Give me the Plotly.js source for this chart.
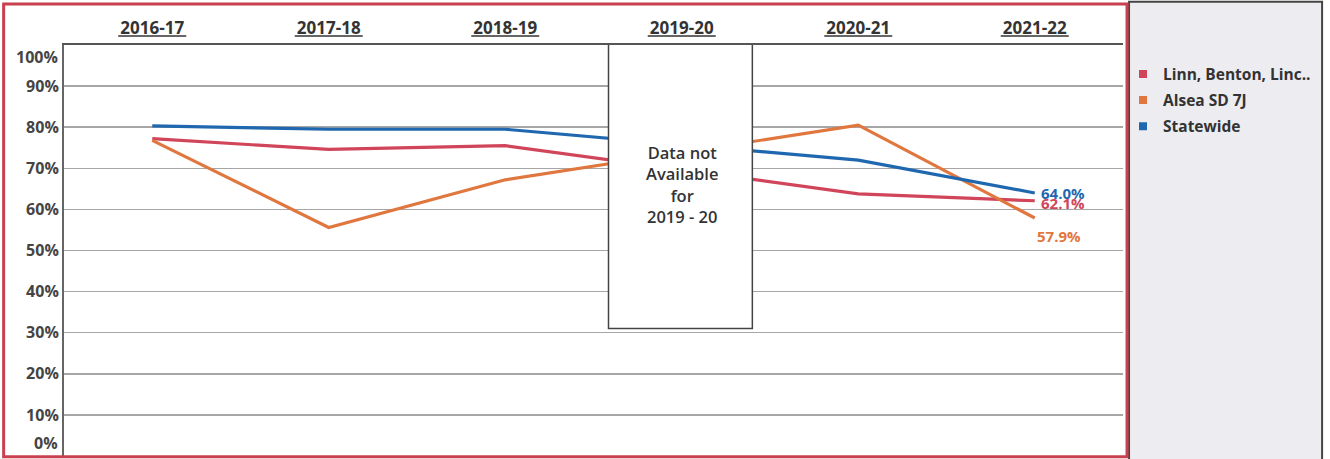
<!DOCTYPE html>
<html>
<head>
<meta charset="utf-8">
<script src="https://cdn.plot.ly/plotly-3.0.1.min.js"></script>
<style>html,body{margin:0;padding:0;background:#fff;}#chart{width:1330px;height:459px;}</style>
</head>
<body>
<div id="chart"></div>
<script>
var years = ["2016-17", "2017-18", "2018-19", "2019-20", "2020-21", "2021-22"];
var linnBenton = [77.2, 74.6, 75.5, null, 63.8, 62.1];
var alsea = [76.8, 55.6, 67.2, null, 80.5, 57.9];
var statewide = [80.3, 79.5, 79.5, null, 72.0, 64.0];
var seriesNames = ["Linn, Benton, Linc..", "Alsea SD 7J", "Statewide"];
var seriesColors = ["#d0455a", "#e0773e", "#1f68b0"];
var yTicks = [0, 10, 20, 30, 40, 50, 60, 70, 80, 90, 100];
var noDataText = "Data not<br>Available<br>for<br>2019 - 20";

var FONT = "'Open Sans', 'Noto Sans', sans-serif";
var allSeries = [linnBenton, alsea, statewide];

var traces = [];
allSeries.forEach(function (vals, i) {
  traces.push({
    type: "scatter", mode: "lines", x: years, y: vals, name: seriesNames[i],
    connectgaps: true, showlegend: false, hoverinfo: "skip",
    line: {color: seriesColors[i], width: 3.2}
  });
});
allSeries.forEach(function (vals, i) {
  traces.push({
    type: "scatter", mode: "markers", x: [null], y: [null], name: seriesNames[i],
    legendgroup: "g" + i, showlegend: true,
    marker: {symbol: "square", size: 8, color: seriesColors[i]}
  });
});

function fmt(v) { return v.toFixed(1) + "%"; }
var last = years.length - 1;
var tickFont = {family: FONT, size: 16, color: "#444", weight: 700};

var annotations = [
  {x: 3, y: 66, xref: "x", yref: "y", text: noDataText, showarrow: false,
   font: {family: FONT, size: 16.5, color: "#333", weight: 600}, align: "center"},
  {x: last, y: linnBenton[last], xref: "x", yref: "y", text: fmt(linnBenton[last]), showarrow: false,
   xanchor: "left", xshift: 4, yshift: -2, font: {family: FONT, size: 15, color: seriesColors[0], weight: 700}},
  {x: last, y: statewide[last], xref: "x", yref: "y", text: fmt(statewide[last]), showarrow: false,
   xanchor: "left", xshift: 4, font: {family: FONT, size: 15, color: seriesColors[2], weight: 700}},
  {x: last, y: alsea[last], xref: "x", yref: "y", text: fmt(alsea[last]), showarrow: false,
   xanchor: "left", xshift: 0, yshift: -18, font: {family: FONT, size: 15, color: seriesColors[1], weight: 700}},
  {x: 0, y: yTicks[yTicks.length - 1], xref: "paper", yref: "y", text: yTicks[yTicks.length - 1] + "%", showarrow: false,
   xanchor: "right", xshift: -4, yshift: -12, font: tickFont},
  {x: 0, y: yTicks[0], xref: "paper", yref: "y", text: yTicks[0] + "%", showarrow: false,
   xanchor: "right", xshift: -4, yshift: 13, font: tickFont}
];

var shapes = [
  // legend panel
  {type: "rect", xref: "paper", yref: "paper", x0: 1.0057, x1: 1.188, y0: -0.01, y1: 1.105,
   fillcolor: "#ececf1", line: {color: "#444", width: 2}, layer: "below"},
  // no data box
  {type: "rect", xref: "x", yref: "y", x0: 2.585, x1: 3.4, y0: 31, y1: 100.6,
   fillcolor: "#ffffff", line: {color: "#444", width: 1.5}, layer: "above"},
  // red frame
  {type: "rect", xref: "paper", yref: "paper", x0: -0.057, x1: 1.0038, y0: -0.002, y1: 1.1,
   line: {color: "#c9414f", width: 3}, layer: "above"}
];
// underline for the category labels
years.forEach(function (y, i) {
  shapes.push({type: "line", xref: "x", yref: "paper", xsizemode: "pixel", ysizemode: "pixel",
    xanchor: i, yanchor: 1, x0: -34, x1: 34, y0: 9, y1: 9, line: {color: "#333", width: 1.5}});
});

var layout = {
  width: 1330, height: 459,
  margin: {l: 64, r: 207, t: 45, b: 3},
  paper_bgcolor: "#ffffff", plot_bgcolor: "#ffffff",
  font: {family: FONT, color: "#333"},
  showlegend: true,
  legend: {x: 1.0, y: 0.97, xanchor: "left", yanchor: "top", bgcolor: "rgba(0,0,0,0)",
           font: {family: FONT, size: 15.5, color: "#333", weight: 700}, tracegroupgap: 3,
           traceorder: "grouped", itemwidth: 30},
  xaxis: {
    type: "category", side: "top", range: [-0.5, 5.5], fixedrange: true,
    tickvals: years, ticktext: years,
    tickfont: {family: FONT, size: 17, color: "#333", weight: 700},
    ticks: "", ticklabelstandoff: 2, showgrid: false, zeroline: false,
    showline: true, linecolor: "#555", linewidth: 2
  },
  yaxis: {
    range: [0, 100], tickvals: yTicks.slice(1, -1),
    ticktext: yTicks.slice(1, -1).map(function (v) { return v + "%"; }),
    tickfont: tickFont,
    ticks: "", showgrid: true, gridcolor: "#a6a6a6", gridwidth: 1.5, zeroline: false,
    showline: true, linecolor: "#666", linewidth: 2
  },
  shapes: shapes,
  annotations: annotations
};

Plotly.newPlot("chart", traces, layout, {staticPlot: true, displayModeBar: false});
</script>
</body>
</html>
